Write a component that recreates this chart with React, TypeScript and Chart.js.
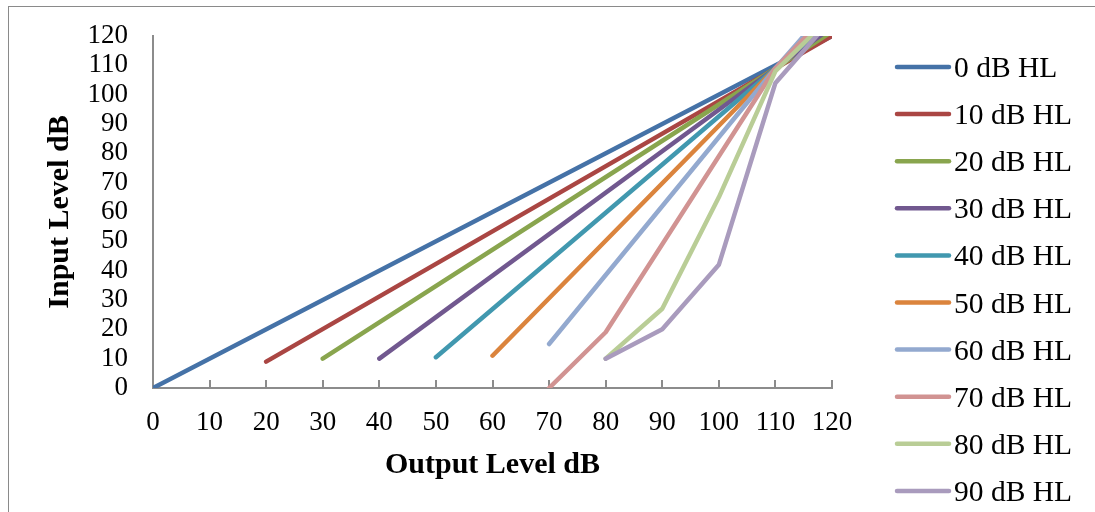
import React, { useEffect, useRef } from "react";
import { Chart, registerables } from "chart.js";

Chart.register(...registerables);

const seriesLabels = [
  "0 dB HL", "10 dB HL", "20 dB HL", "30 dB HL", "40 dB HL",
  "50 dB HL", "60 dB HL", "70 dB HL", "80 dB HL", "90 dB HL",
];
const seriesColors = [
  "#4572A7", "#AA4643", "#89A54E", "#71588F", "#4198AF",
  "#DB843D", "#93A9CF", "#D19392", "#B9CD96", "#A99BBD",
];

// Output level (x) and input level (y) for each hearing level curve
const out0 = [0, 120];
const in0 = [0, 120];
const out10 = [20, 120];
const in10 = [9, 120];
const out20 = [30, 110, 120];
const in20 = [10, 109, 121.5];
const out30 = [40, 110, 120];
const in30 = [10, 109, 123];
const out40 = [50, 110, 120];
const in40 = [10.5, 109, 125.5];
const out50 = [60, 110, 120];
const in50 = [11, 109, 128.5];
const out60 = [70, 110, 120];
const in60 = [15, 109, 131];
const out70 = [70, 80, 110, 120];
const in70 = [0, 19, 109, 129];
const out80 = [80, 90, 100, 110, 120];
const in80 = [10, 27, 65, 108, 127];
const out90 = [80, 90, 100, 110, 120];
const in90 = [10, 20, 42, 104, 126];

const outputs = [out0, out10, out20, out30, out40, out50, out60, out70, out80, out90];
const inputs = [in0, in10, in20, in30, in40, in50, in60, in70, in80, in90];

const xTicks = [0, 10, 20, 30, 40, 50, 60, 70, 80, 90, 100, 110, 120];
const yTicks = [0, 10, 20, 30, 40, 50, 60, 70, 80, 90, 100, 110, 120];

const FONT = "'Liberation Serif', 'Times New Roman', serif";
const AXIS_COLOR = "#8c8c8c";

const customPlugin = {
  id: "customDecor",
  beforeDraw(chart: any) {
    const ctx = chart.ctx;
    ctx.save();
    ctx.fillStyle = "#ffffff";
    ctx.fillRect(0, 0, chart.width, chart.height);
    ctx.strokeStyle = "#8a8a8a";
    ctx.lineWidth = 1;
    ctx.strokeRect(8.5, 6.5, chart.width, chart.height + 20);
    ctx.restore();
  },
  beforeDatasetsDraw(chart: any) {
    const ctx = chart.ctx;
    const xs = chart.scales.x;
    ctx.save();
    ctx.strokeStyle = AXIS_COLOR;
    ctx.lineWidth = 2;
    for (const v of xTicks) {
      const px = Math.round(xs.getPixelForValue(v));
      ctx.beginPath();
      ctx.moveTo(px, xs.top);
      ctx.lineTo(px, xs.top - 8);
      ctx.stroke();
    }
    ctx.restore();
  },
  afterDraw(chart: any) {
    const ctx = chart.ctx;
    ctx.save();
    const startY = 67;
    const step = 47.1;
    ctx.font = `29.5px ${FONT}`;
    ctx.textBaseline = "alphabetic";
    ctx.textAlign = "left";
    seriesLabels.forEach((label, i) => {
      const y = startY + i * step;
      ctx.strokeStyle = seriesColors[i];
      ctx.lineWidth = 4.5;
      ctx.lineCap = "round";
      ctx.beginPath();
      ctx.moveTo(897, y);
      ctx.lineTo(949, y);
      ctx.stroke();
      ctx.fillStyle = "#000000";
      ctx.fillText(label, 954, y + 10);
    });
    ctx.restore();
  },
};

export default function App() {
  const canvasRef = useRef<HTMLCanvasElement | null>(null);

  useEffect(() => {
    if (!canvasRef.current) return;
    const datasets = seriesLabels.map((label, i) => ({
      label,
      data: outputs[i].map((x, j) => ({ x, y: inputs[i][j] })),
      borderColor: seriesColors[i],
      backgroundColor: seriesColors[i],
      borderWidth: 4.5,
      borderCapStyle: "round" as const,
      borderJoinStyle: "round" as const,
      pointRadius: 0,
      pointHoverRadius: 0,
      showLine: true,
      fill: false,
      tension: 0,
      order: seriesLabels.length - i,
    }));

    const chart = new Chart(canvasRef.current, {
      type: "scatter",
      data: { datasets },
      plugins: [customPlugin],
      options: {
        animation: false,
        responsive: true,
        maintainAspectRatio: false,
        layout: { padding: { left: 0, top: 36, right: 263, bottom: 0 } },
        plugins: {
          legend: { display: false },
          tooltip: { enabled: false },
        },
        scales: {
          x: {
            type: "linear",
            min: 0,
            max: 120,
            afterFit: (scale: any) => {
              scale.height = 124;
              scale.paddingLeft = 0;
              scale.paddingRight = 0;
            },
            afterBuildTicks: (scale: any) => { scale.ticks = xTicks.map((v) => ({ value: v })); },
            grid: { display: false, drawTicks: false },
            border: { display: true, color: AXIS_COLOR, width: 2 },
            ticks: {
              autoSkip: false,
              maxRotation: 0,
              padding: 19,
              color: "#000000",
              font: { family: FONT, size: 27 },
            },
            title: {
              display: true,
              text: "Output Level dB",
              color: "#000000",
              font: { family: FONT, size: 30, weight: "bold" },
              padding: { top: 0, bottom: 29 },
            },
          },
          y: {
            type: "linear",
            min: 0,
            max: 120,
            afterFit: (scale: any) => {
              scale.width = 153;
              scale.paddingTop = 0;
              scale.paddingBottom = 0;
            },
            afterBuildTicks: (scale: any) => { scale.ticks = yTicks.map((v) => ({ value: v })); },
            grid: { display: false, drawTicks: false },
            border: { display: true, color: AXIS_COLOR, width: 2 },
            ticks: {
              autoSkip: false,
              padding: 25,
              color: "#000000",
              font: { family: FONT, size: 27 },
            },
            title: {
              display: true,
              text: "Input Level dB",
              color: "#000000",
              font: { family: FONT, size: 30, weight: "bold" },
              padding: { top: 42, bottom: 0 },
            },
          },
        },
      },
    });
    return () => chart.destroy();
  }, []);

  return (
    <div style={{ position: "absolute", left: 0, top: 0, width: 1095, height: 512 }}>
      <canvas ref={canvasRef} />
    </div>
  );
}
